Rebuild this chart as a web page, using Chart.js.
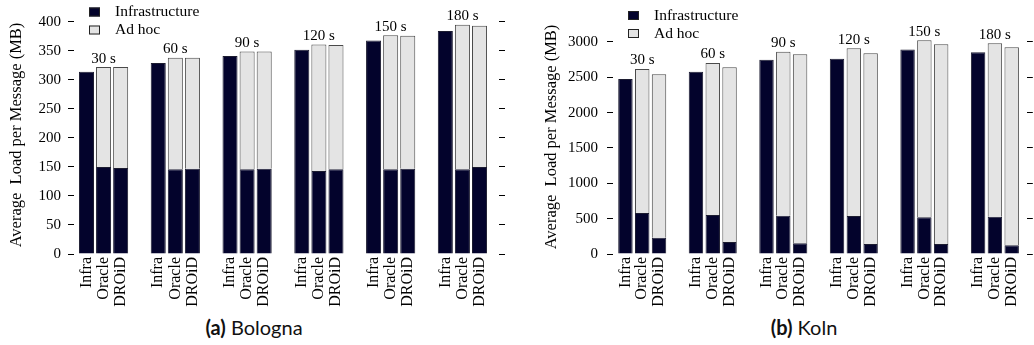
<!DOCTYPE html>
<html>
<head>
<meta charset="utf-8">
<script src="https://cdn.jsdelivr.net/npm/chart.js@4.4.0/dist/chart.umd.min.js"></script>
<style>
  body { margin: 0; background: #fff; width: 1034px; height: 345px; position: relative; overflow: hidden; }
  .panel { position: absolute; top: 0; width: 517px; height: 310px; }
  .caption { position: absolute; top: 315px; font-family: Lato, 'Open Sans', sans-serif; font-size: 20px; color: #111; transform: translateX(-50%); white-space: nowrap; }
</style>
</head>
<body>
<div class="panel" style="left:0"><canvas id="bologna"></canvas></div>
<div class="panel" style="left:517px"><canvas id="koln"></canvas></div>
<div class="caption" style="left:254px"><b>(a)</b> Bologna</div>
<div class="caption" style="left:804px"><b>(b)</b> Koln</div>
<script>
const groupLabels = ['30 s', '60 s', '90 s', '120 s', '150 s', '180 s'];
const barLabels = ['Infra', 'Oracle', 'DROiD'];
const legendLabels = ['Infrastructure', 'Ad hoc'];
const yTitle = 'Average  Load per Message (MB)';

// Bologna, MB
const bolognaInfra       = [314, 329, 341, 352, 368, 384];
const bolognaOracleInfra = [150, 146, 146, 143, 146, 146];
const bolognaOracleAdhoc = [172, 192, 203, 218, 231, 249];
const bolognaDroidInfra  = [148, 147, 147, 146, 147, 150];
const bolognaDroidAdhoc  = [174, 191, 202, 214, 229, 243];
const bolognaTicks = [0, 50, 100, 150, 200, 250, 300, 350, 400];

// Koln, MB
const kolnInfra       = [2476, 2580, 2750, 2764, 2892, 2854];
const kolnOracleInfra = [580, 552, 542, 538, 519, 528];
const kolnOracleAdhoc = [2038, 2151, 2321, 2372, 2505, 2453];
const kolnDroidInfra  = [231, 170, 151, 142, 142, 123];
const kolnDroidAdhoc  = [2311, 2472, 2674, 2698, 2825, 2802];
const kolnTicks = [0, 500, 1000, 1500, 2000, 2500, 3000];

const INFRA_COLOR = '#03032c';
const ADHOC_COLOR = '#e4e4e4';
const GROUP_STRIDE = 4.2; // slots per group: 3 bars + gap
const SERIF = "'Liberation Serif', 'DejaVu Serif', serif";

Chart.defaults.font.family = SERIF;
Chart.defaults.font.size = 15;
Chart.defaults.color = '#000';

// group captions ("30 s" ...) above the middle bar
const groupLabelPlugin = {
  id: 'groupLabels',
  afterDatasetsDraw(chart) {
    const ctx = chart.ctx;
    const meta = chart.getDatasetMeta(1);
    ctx.save();
    ctx.font = '15px ' + SERIF;
    ctx.fillStyle = '#000';
    ctx.textAlign = 'center';
    ctx.textBaseline = 'bottom';
    groupLabels.forEach((lab, g) => {
      const el = meta.data[g * 3 + 1];
      ctx.fillText(lab, el.x, el.y - 1);
    });
    ctx.restore();
  }
};

// small legend in the top-left corner
const legendPlugin = {
  id: 'boxLegend',
  afterDraw(chart, args, opts) {
    const ctx = chart.ctx;
    const left = chart.chartArea.left;
    ctx.save();
    ctx.font = '15.5px ' + SERIF;
    ctx.textBaseline = 'middle';
    chart.data.datasets.forEach((ds, i) => {
      const cy = opts.top + i * 18;
      ctx.fillStyle = ds.backgroundColor;
      ctx.fillRect(left + 15, cy - 4.5, 11, 9);
      ctx.strokeStyle = '#222';
      ctx.lineWidth = 1;
      ctx.strokeRect(left + 15.5, cy - 4, 10, 8);
      ctx.fillStyle = '#000';
      ctx.fillText(ds.label, left + 41, cy);
    });
    ctx.restore();
  }
};

function makeChart(id, series, ticks, lay) {
  const [infra, oracleInfra, oracleAdhoc, droidInfra, droidAdhoc] = series;
  const infraPts = [], adhocPts = [], positions = [];
  groupLabels.forEach((_, g) => {
    const x0 = g * GROUP_STRIDE;
    positions.push(x0, x0 + 1, x0 + 2);
    infraPts.push({x: x0, y: infra[g]}, {x: x0 + 1, y: oracleInfra[g]}, {x: x0 + 2, y: droidInfra[g]});
    adhocPts.push({x: x0, y: null}, {x: x0 + 1, y: oracleAdhoc[g]}, {x: x0 + 2, y: droidAdhoc[g]});
  });

  const yCommon = {
    min: 0,
    max: lay.yMax,
    stacked: true,
    afterBuildTicks: s => { s.ticks = ticks.map(v => ({value: v})); },
    border: {display: false},
    grid: {drawOnChartArea: false, drawTicks: true, tickLength: 6, color: '#000', lineWidth: 1}
  };

  new Chart(document.getElementById(id), {
    type: 'bar',
    data: {
      datasets: [{
        label: legendLabels[0],
        data: infraPts,
        backgroundColor: INFRA_COLOR,
        borderColor: '#1c1c30',
        borderWidth: 1
      }, {
        label: legendLabels[1],
        data: adhocPts,
        backgroundColor: ADHOC_COLOR,
        borderColor: '#4a4a4a',
        borderWidth: 1
      }]
    },
    options: {
      responsive: true,
      maintainAspectRatio: false,
      animation: false,
      devicePixelRatio: 1,
      categoryPercentage: 1,
      barPercentage: lay.barPct,
      layout: {padding: {top: lay.top, left: 0, right: 0, bottom: 0}},
      plugins: {legend: {display: false}, tooltip: {enabled: false}, boxLegend: {top: lay.legendTop}},
      scales: {
        x: {
          type: 'linear',
          offset: false,
          min: lay.xMin,
          max: lay.xMax,
          stacked: true,
          afterBuildTicks: s => { s.ticks = positions.map(v => ({value: v})); },
          afterFit: s => { s.height = 56; },
          border: {display: false},
          grid: {display: false, drawTicks: false, offset: false},
          ticks: {
            autoSkip: false,
            minRotation: 90,
            maxRotation: 90,
            padding: 3,
            font: {size: 16},
            callback: (v, i) => barLabels[i % 3]
          }
        },
        y: Object.assign({}, yCommon, {
          position: 'left',
          afterFit: s => { s.width = lay.plotLeft; },
          ticks: {padding: lay.tickPad, callback: v => String(v)},
          title: {display: true, text: yTitle, font: {size: 16.5}, padding: {top: lay.titlePad, bottom: 0}}
        }),
        yr: Object.assign({}, yCommon, {
          position: 'right',
          afterFit: s => { s.width = 517 - lay.plotRight; },
          ticks: {display: false}
        })
      }
    },
    plugins: [groupLabelPlugin, legendPlugin]
  });
}

makeChart('bologna',
  [bolognaInfra, bolognaOracleInfra, bolognaOracleAdhoc, bolognaDroidInfra, bolognaDroidAdhoc],
  bolognaTicks,
  {plotLeft: 74, plotRight: 499, top: 10, yMax: 410, xMin: -0.73, xMax: 24.14,
   barPct: 0.88, tickPad: 7, titlePad: 7, legendTop: 12});

makeChart('koln',
  [kolnInfra, kolnOracleInfra, kolnOracleAdhoc, kolnDroidInfra, kolnDroidAdhoc],
  kolnTicks,
  {plotLeft: 96, plotRight: 514, top: 20, yMax: 3311, xMin: -0.74, xMax: 23.9,
   barPct: 0.86, tickPad: 9, titlePad: 25, legendTop: 15.5});
</script>
</body>
</html>
